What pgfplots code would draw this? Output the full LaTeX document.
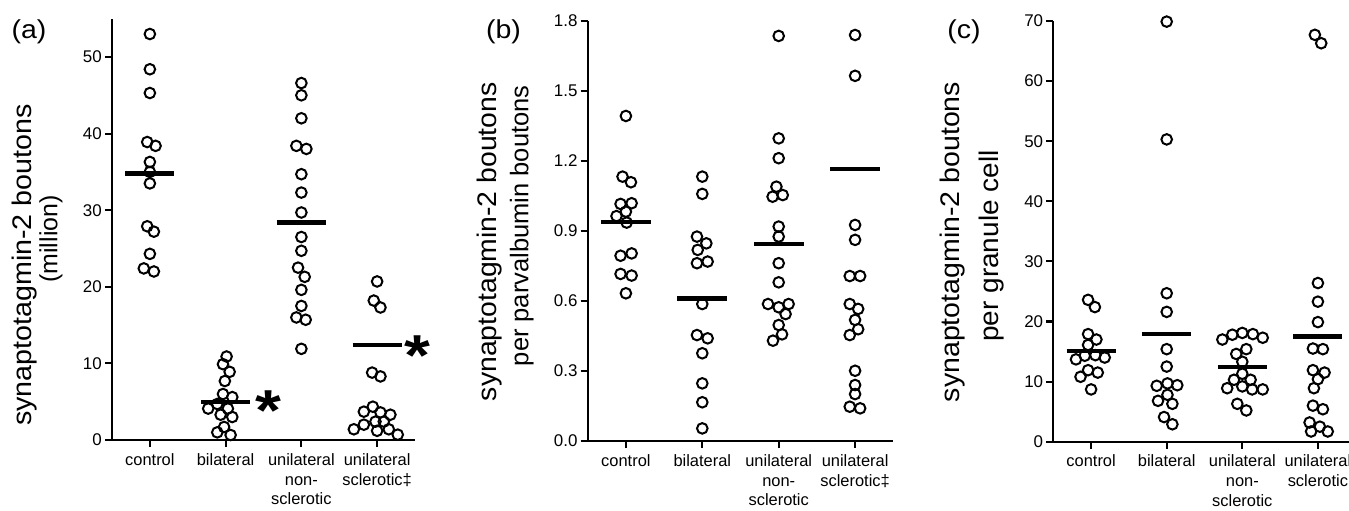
\documentclass[border=0pt]{standalone}
\usepackage{fontspec}
\setmainfont{Liberation Sans}
\usepackage{graphicx}
\usepackage{pgfplots}
\pgfplotsset{compat=1.18}

\pgfplotsset{
  panel/.style={
    scale only axis,
    anchor=south west,
    axis x line*=bottom, axis y line*=left,
    axis line style={line width=2.1bp, black},
    tick style={line width=2.1bp, black},
    tick align=outside,
    major tick length=7bp,
    xmin=-0.5, xmax=3.5, ymin=0,
    xtick={0,1,2,3},
    clip=false,
    xticklabel style={font=\fontsize{16.5}{20}\selectfont, black, align=center, inner sep=0pt, yshift=-6bp},
    yticklabel style={font=\fontsize{17}{20}\selectfont, black, inner sep=0pt, xshift=-3bp},
    /pgf/number format/assume math mode=true,
  },
  dots/.style={only marks, mark=o, mark size=5.3bp, mark options={line width=2bp, black, solid}},
  mbar/.style={no marks, black, line width=4.3bp},
}
\newcommand{\sigstar}{\fontsize{58}{58}\selectfont\bfseries\raisebox{-0.52em}{\scalebox{1.15}[1]{*}}}

\begin{document}
\begin{tikzpicture}
% ---------------- (a)
\begin{axis}[panel, at={(112bp,71bp)}, width=303bp, height=421.3bp,
  ymax=55, ytick={0,10,...,50},
  xticklabels={control,bilateral,{unilateral\\non-\\sclerotic},{unilateral\\sclerotic‡}}]
\addplot[dots] coordinates {(0,53.0) (0,48.4) (0,45.3) (-0.035,38.9) (0.075,38.4) (0,36.3) (0,35.0) (0,33.5) (-0.035,27.9) (0.053,27.2) (0,24.3) (-0.08,22.4) (0.053,22.0)};
\addplot[dots] coordinates {(1.013,10.9) (0.965,9.9) (1.053,8.9) (0.99,7.7) (0.965,6.0) (1.088,5.6) (0.89,4.7) (0.77,4.1) (1.03,4.1) (0.934,3.3) (1.088,3.0) (0.98,1.7) (0.89,1.0) (1.066,0.65)};
\addplot[dots] coordinates {(2,46.6) (2,45.0) (2,42.0) (1.934,38.4) (2.066,38.0) (2,34.7) (2,32.3) (2,29.7) (2,26.5) (2,24.7) (1.956,22.5) (2.044,21.3) (2,19.6) (2,17.5) (1.934,16.0) (2.057,15.7) (2,11.9)};
\addplot[dots] coordinates {(3,20.7) (2.956,18.2) (3.044,17.3) (2.934,8.8) (3.044,8.3) (2.943,4.35) (2.825,3.7) (3.044,3.6) (3.175,3.3) (2.978,2.4) (3.088,2.4) (2.825,2.0) (2.693,1.4) (3,1.2) (3.154,1.4) (3.272,0.7)};
\addplot[mbar] coordinates {(-0.325,34.8) (0.325,34.8)};
\addplot[mbar] coordinates {(0.675,5.0) (1.325,5.0)};
\addplot[mbar] coordinates {(1.675,28.4) (2.325,28.4)};
\addplot[mbar] coordinates {(2.675,12.4) (3.325,12.4)};
\node[anchor=base, inner sep=0pt] at (axis cs:1.566,5.2) {\sigstar};
\node[anchor=base, inner sep=0pt] at (axis cs:3.53,12.4) {\sigstar};
\end{axis}
% ---------------- (b)
\begin{axis}[panel, at={(587.7bp,70bp)}, width=305.6bp, height=420bp,
  ymax=1.8, ytick={0,0.3,...,1.8},
  yticklabel style={/pgf/number format/.cd, fixed, fixed zerofill, precision=1},
  xticklabels={control,bilateral,{unilateral\\non-\\sclerotic},{unilateral\\sclerotic‡}}]
\addplot[dots] coordinates {(0,1.393) (-0.044,1.133) (0.066,1.109) (-0.07,1.016) (0.075,1.019) (-0.123,0.964) (0,0.983) (0.01,0.936) (-0.07,0.794) (0.075,0.804) (-0.07,0.716) (0.075,0.709) (0,0.633)};
\addplot[dots] coordinates {(1,1.133) (1,1.059) (0.93,0.876) (1.053,0.847) (0.94,0.819) (0.93,0.762) (1.07,0.769) (1,0.587) (0.93,0.454) (1.07,0.440) (1,0.376) (1,0.247) (1,0.166) (1,0.054)};
\addplot[dots] coordinates {(2,1.736) (2,1.297) (2,1.212) (1.97,1.09) (1.92,1.047) (2.053,1.054) (2,0.919) (2,0.876) (2,0.762) (2,0.680) (1.86,0.587) (2,0.573) (2.13,0.587) (2.09,0.544) (2,0.497) (2.044,0.457) (1.925,0.43)};
\addplot[dots] coordinates {(3,1.74) (3,1.565) (3,0.926) (3,0.862) (2.93,0.707) (3.066,0.707) (2.93,0.587) (3.04,0.566) (3,0.519) (3.04,0.479) (2.93,0.454) (3,0.301) (3,0.240) (3,0.201) (2.93,0.147) (3.066,0.140)};
\addplot[mbar] coordinates {(-0.325,0.94) (0.325,0.94)};
\addplot[mbar] coordinates {(0.675,0.611) (1.325,0.611)};
\addplot[mbar] coordinates {(1.675,0.843) (2.325,0.843)};
\addplot[mbar] coordinates {(2.675,1.166) (3.325,1.166)};
\end{axis}
% ---------------- (c)
\begin{axis}[panel, at={(1053.3bp,69.3bp)}, width=302.4bp, height=420.7bp,
  ymax=70, ytick={0,10,...,70},
  xticklabels={control,bilateral,{unilateral\\non-\\sclerotic},{unilateral\\sclerotic}}]
\addplot[dots] coordinates {(-0.04,23.6) (0.05,22.4) (-0.04,17.9) (0.07,17.0) (-0.04,16.1) (-0.2,13.7) (-0.084,14.3) (0.057,14.4) (0.18,14.0) (-0.04,11.9) (-0.14,10.8) (0.088,11.5) (0,8.7)};
\addplot[dots] coordinates {(1,69.9) (1,50.3) (1,24.7) (1,21.6) (1,15.4) (1,12.5) (0.868,9.3) (1.01,9.7) (1.14,9.4) (1.01,7.8) (0.885,6.8) (1.075,6.3) (0.965,4.1) (1.075,2.9)};
\addplot[dots] coordinates {(1.736,17.0) (1.868,17.8) (2,18.1) (2.14,17.9) (2.27,17.3) (2.053,15.4) (1.92,14.6) (2,13.3) (2,11.3) (1.89,10.3) (2.11,10.3) (1.8,8.9) (2,9.2) (2.13,8.7) (2.27,8.7) (1.934,6.3) (2.053,5.2)};
\addplot[dots] coordinates {(2.96,67.7) (3.044,66.3) (3,26.4) (3,23.3) (3,19.9) (2.934,15.5) (3.066,15.4) (2.934,11.9) (3.088,11.5) (3,10.4) (2.947,8.9) (2.934,6.0) (3.066,5.4) (2.89,3.2) (3.026,2.5) (2.91,1.7) (3.13,1.7)};
\addplot[mbar] coordinates {(-0.325,15.1) (0.325,15.1)};
\addplot[mbar] coordinates {(0.675,17.9) (1.325,17.9)};
\addplot[mbar] coordinates {(1.675,12.4) (2.325,12.4)};
\addplot[mbar] coordinates {(2.675,17.5) (3.325,17.5)};
\end{axis}
% ---------------- labels
\begin{scope}[every node/.style={inner sep=0pt, black}]
\node[font=\fontsize{26}{26}\selectfont] at (29bp,479bp) {\scalebox{1.1}[1]{(a)}};
\node[font=\fontsize{26}{26}\selectfont] at (503.5bp,479bp) {\scalebox{1.1}[1]{(b)}};
\node[font=\fontsize{26}{26}\selectfont] at (964bp,479bp) {\scalebox{1.1}[1]{(c)}};
\node[rotate=90, font=\fontsize{27}{27}\selectfont] at (25bp,246bp) {\scalebox{1.065}[1]{synaptotagmin-2 boutons}};
\node[rotate=90, font=\fontsize{25}{25}\selectfont] at (51bp,272bp) {(million)};
\node[rotate=90, font=\fontsize{27}{27}\selectfont] at (490bp,269.3bp) {\scalebox{1.055}[1]{synaptotagmin-2 boutons}};
\node[rotate=90, font=\fontsize{25.6}{26}\selectfont] at (521.7bp,285.2bp) {per parvalbumin boutons};
\node[rotate=90, font=\fontsize{27}{27}\selectfont] at (953bp,269bp) {\scalebox{1.06}[1]{synaptotagmin-2 boutons}};
\node[rotate=90, font=\fontsize{27}{27}\selectfont] at (991.7bp,265bp) {\scalebox{1.04}[1]{per granule cell}};
\end{scope}
\pgfresetboundingbox
\path[use as bounding box] (0,0) rectangle (1349bp,511bp);
\end{tikzpicture}
\end{document}
